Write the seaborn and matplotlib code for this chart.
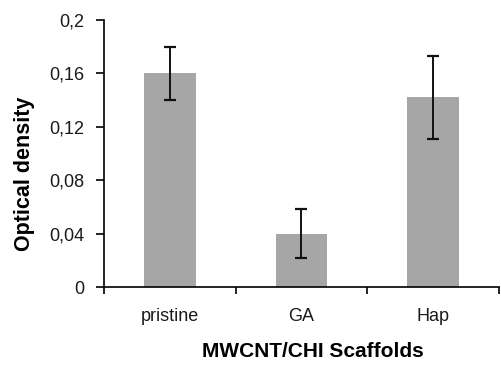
import matplotlib
matplotlib.use("Agg")
import matplotlib.pyplot as plt
import seaborn as sns
import pandas as pd
import numpy as np

categories = ["pristine", "GA", "Hap"]
values = [0.160, 0.040, 0.142]
errors = [0.020, 0.0185, 0.031]
yticks = [0, 0.04, 0.08, 0.12, 0.16, 0.2]
ytick_labels = ["0", "0,04", "0,08", "0,12", "0,16", "0,2"]

sns.set_theme(style="white")
plt.rcParams['font.family'] = ['Liberation Sans', 'DejaVu Sans']

df = pd.DataFrame({"cat": categories, "val": values})

fig = plt.figure(figsize=(5.01, 3.65), dpi=100)
ax = fig.add_axes([104/501, 1-287/365, (499-104)/501, (287-20)/365])

sns.barplot(data=df, x="cat", y="val", color="#a6a6a6", saturation=1,
            width=0.39, errorbar=None, ax=ax, edgecolor="none")
ax.errorbar(np.arange(len(categories)), values, yerr=errors, fmt="none",
            ecolor="#111111", elinewidth=1.4, capsize=4, capthick=1.6)

ax.set_xlim(-0.5, 2.5)
ax.set_ylim(0, 0.2)
ax.set_yticks(yticks)
ax.set_yticklabels(ytick_labels)
ax.set_xticks(np.arange(len(categories)))
ax.set_xticklabels(categories)
ax.set_xticks([-0.5, 0.5, 1.5, 2.5], minor=True)

for s in ["top", "right"]:
    ax.spines[s].set_visible(False)
for s in ["left", "bottom"]:
    ax.spines[s].set_color("black")
    ax.spines[s].set_linewidth(1.2)

ax.tick_params(axis="y", which="major", direction="out", length=6, width=1.2,
               color="black", labelsize=13, labelcolor="#1a1a1a", pad=8, left=True)
ax.tick_params(axis="x", which="major", length=0, labelsize=13,
               labelcolor="#1a1a1a", pad=15)
ax.tick_params(axis="x", which="minor", direction="out", length=5, width=1.2,
               color="black", bottom=True)

ax.set_xlabel("MWCNT/CHI Scaffolds", fontsize=15, fontweight="bold",
              color="black")
ax.xaxis.set_label_coords(0.528, -0.205)
ax.set_ylabel("Optical density", fontsize=15.5, fontweight="bold",
              color="black")
ax.yaxis.set_label_coords(-0.175, 0.423)
ax.grid(False)

fig.savefig("out.png", dpi=100)
